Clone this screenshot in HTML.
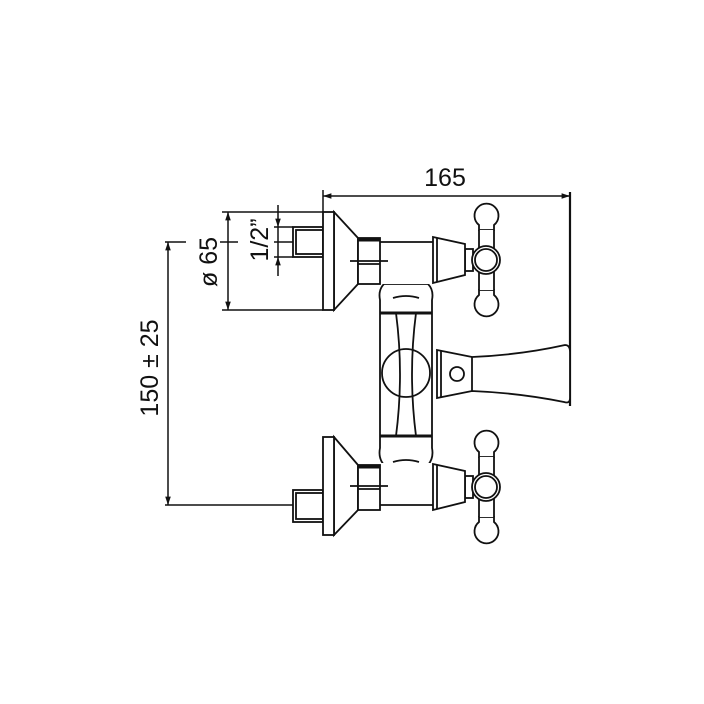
<!DOCTYPE html>
<html><head><meta charset="utf-8"><style>
html,body{margin:0;padding:0;background:#fff;}
svg{display:block;}
text{font-family:"Liberation Sans",sans-serif;fill:#111;}
</style></head><body>
<svg width="704" height="704" viewBox="0 0 704 704" xmlns="http://www.w3.org/2000/svg">
<defs>
<marker id="ar" viewBox="0 0 12 10" refX="12" refY="5" markerWidth="12" markerHeight="7" orient="auto-start-reverse" markerUnits="userSpaceOnUse"><path d="M0,1 L12,5 L0,9 z" fill="#111"/></marker>
<g id="handle" fill="#fff" stroke="#111" stroke-width="1.8">
  <rect x="465" y="-11" width="8" height="22"/>
  <path d="M479,-30 L479,-35 A12,12 0 1 1 494,-35 L494,-30 Z"/>
  <path d="M479,30 L479,35 A12,12 0 1 0 494,35 L494,30 Z"/>
  <rect x="479" y="-30" width="15" height="60" stroke="none"/>
  <line x1="479" y1="-30" x2="479" y2="30"/><line x1="494" y1="-30" x2="494" y2="30"/>
  <circle cx="486" cy="0" r="14"/><circle cx="486" cy="0" r="11"/>
  <path d="M433,-23 L465,-16 L465,15 L433,23 Z"/>
  <line x1="437" y1="-22" x2="437" y2="22"/>
</g>
</defs>
<g fill="none" stroke="#111" stroke-width="1.5">
  <line x1="323" y1="196" x2="570" y2="196" marker-start="url(#ar)" marker-end="url(#ar)"/>
  <line x1="323" y1="190" x2="323" y2="212"/>
  <line x1="570" y1="192" x2="570" y2="406" stroke-width="2.2"/>
  <line x1="168" y1="242" x2="168" y2="505" marker-start="url(#ar)" marker-end="url(#ar)"/>
  <line x1="165" y1="242" x2="186" y2="242"/>
  <line x1="165" y1="505" x2="323" y2="505"/>
  <line x1="228" y1="212" x2="228" y2="310" marker-start="url(#ar)" marker-end="url(#ar)"/>
  <line x1="222" y1="212" x2="323" y2="212"/><line x1="222" y1="310" x2="323" y2="310"/>
  <line x1="220" y1="242" x2="238" y2="242"/>
  <line x1="278" y1="205" x2="278" y2="227" marker-end="url(#ar)"/>
  <line x1="278" y1="257" x2="278" y2="276" marker-start="url(#ar)"/>
  <line x1="278" y1="227" x2="278" y2="257"/>
  <line x1="274" y1="227" x2="293" y2="227"/><line x1="274" y1="242" x2="293" y2="242"/><line x1="274" y1="257" x2="293" y2="257"/>
</g>
<text x="445" y="186" font-size="25" text-anchor="middle">165</text>
<text transform="translate(158,368) rotate(-90)" font-size="25" text-anchor="middle">150 ± 25</text>
<text transform="translate(217,262) rotate(-90)" font-size="25" text-anchor="middle">ø 65</text>
<text transform="translate(268,240) rotate(-90)" font-size="25" text-anchor="middle">1/2”</text>

<g fill="#fff" stroke="#111" stroke-width="1.8">
  <path d="M384,284 Q378,290 380,300 L380,448 Q378,458 384,465 L428,465 Q434,458 432,448 L432,300 Q434,290 428,284 Z"/>
  <line x1="380" y1="313" x2="432" y2="313" stroke-width="3"/>
  <line x1="380" y1="436" x2="432" y2="436" stroke-width="3"/>
  <path d="M393,298 Q406,294 419,298" fill="none"/>
  <path d="M393,462 Q406,458 419,462" fill="none"/>
  <circle cx="406" cy="373" r="24"/>
  <path d="M396,313 Q404,374 396,436" fill="none"/>
  <path d="M416,313 Q408,374 416,436" fill="none"/>
  <path d="M437,350 L472,357 Q520,355 565,345 Q570,345 570,352 L570,398 Q570,404 564,402 Q520,393 472,391 L437,398 Z"/>
  <line x1="441" y1="351" x2="441" y2="397"/>
  <line x1="472" y1="357" x2="472" y2="391"/>
  <circle cx="457" cy="374" r="7"/>
  <rect x="380" y="242" width="54" height="42" stroke="none"/>
  <line x1="380" y1="242" x2="434" y2="242"/>
  <rect x="293" y="227" width="30" height="30"/><rect x="296" y="230" width="27" height="24"/>
  <path d="M334,212 L358,238 L358,284 L334,310 Z"/>
  <rect x="323" y="212" width="11" height="98"/>
  <rect x="358" y="238" width="22" height="46"/>
  <line x1="358" y1="240" x2="380" y2="240" stroke-width="3"/>
  <line x1="350" y1="261" x2="388" y2="261"/><line x1="358" y1="264" x2="380" y2="264"/>
  <use href="#handle" transform="translate(0,260)"/>
  <rect x="380" y="463" width="54" height="42" stroke="none"/>
  <line x1="380" y1="505" x2="434" y2="505"/>
  <rect x="293" y="490" width="30" height="32"/><rect x="296" y="493" width="27" height="26"/>
  <path d="M334,437 L358,465 L358,510 L334,535 Z"/>
  <rect x="323" y="437" width="11" height="98"/>
  <rect x="358" y="465" width="22" height="45"/>
  <line x1="358" y1="467" x2="380" y2="467" stroke-width="3"/>
  <line x1="350" y1="486" x2="388" y2="486"/><line x1="358" y1="489" x2="380" y2="489"/>
  <use href="#handle" transform="translate(0,487)"/>
</g>
</svg>
</body></html>
